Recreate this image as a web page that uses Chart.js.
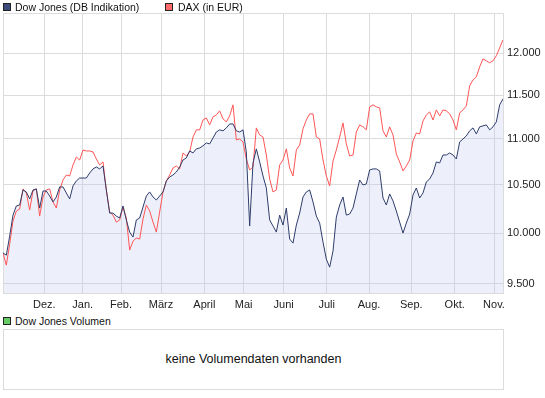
<!DOCTYPE html>
<html>
<head>
<meta charset="utf-8">
<script src="https://cdn.jsdelivr.net/npm/chart.js@4.4.0/dist/chart.umd.min.js"></script>
<style>
    body { margin: 0; background: #fff; font-family: "Liberation Sans", Arial, sans-serif; color: #111; }
    #wrap { position: relative; width: 545px; height: 398px; overflow: hidden; }
    #main { position: absolute; left: 0; top: 0; }
    .leg { position: absolute; font-size: 10.5px; line-height: 12px; white-space: nowrap; }
    .sq { position: absolute; width: 6px; height: 6px; border: 1px solid #222; }
    #volBox { position: absolute; left: 3px; top: 329px; width: 501px; height: 61px; box-sizing: border-box; border: 1px solid #dcdcdc; }
    #volMsg { position: absolute; left: 0; width: 100%; top: 22px; text-align: center; font-size: 12.5px; line-height: 14px; }
</style>
</head>
<body>
<div id="wrap">
    <canvas id="main" width="545" height="315"></canvas>

    <div class="sq" style="left:3px;top:3px;background:#3c4b7c"></div>
    <div class="leg" style="left:15px;top:1px">Dow Jones (DB Indikation)</div>
    <div class="sq" style="left:165px;top:3px;background:#ff6a6a"></div>
    <div class="leg" style="left:178px;top:1px">DAX (in EUR)</div>

    <div class="sq" style="left:3px;top:317px;background:#66cc66"></div>
    <div class="leg" style="left:15px;top:315px">Dow Jones Volumen</div>
    <div id="volBox"><div id="volMsg">keine Volumendaten vorhanden</div></div>
</div>

<script>
const monthLabels = ["Dez.", "Jan.", "Feb.", "März", "April", "Mai", "Juni", "Juli", "Aug.", "Sep.", "Okt.", "Nov."];
const monthPos = [12.4, 23.9, 35.4, 47.4, 60.4, 72.2, 84.2, 97.1, 109.8, 122.5, 135.5, 147.3];
const yTicks = [9500, 10000, 10500, 11000, 11500, 12000];

const dowValues = [
    9800, 9778, 9969, 10183, 10278, 10288, 10446, 10425, 10351, 10446,
    10457, 10256, 10435, 10435, 10382, 10320, 10372, 10478, 10478, 10414,
    10351, 10489, 10542, 10573, 10573, 10573, 10627, 10671, 10692, 10671,
    10703, 10446, 10204, 10204, 10173, 10153, 10278, 10133, 10009, 9959,
    10133, 10153, 10267, 10382, 10425, 10372, 10340, 10382, 10425, 10542,
    10584, 10606, 10638, 10692, 10768, 10790, 10867, 10845, 10890, 10900,
    10924, 10956, 10945, 11011, 11078, 11102, 11091, 11124, 11169, 11169,
    11091, 11078, 11102, 10856, 10071, 10736, 10890, 10747, 10595, 10467,
    10133, 10071, 10009, 10183, 10081, 10256, 9939, 9898, 10081, 10204,
    10372, 10425, 10446, 10320, 10173, 10101, 9908, 9739, 9660, 9818,
    10163, 10288, 10372, 10183, 10194, 10256, 10404, 10552, 10499, 10510,
    10660, 10671, 10671, 10649, 10361, 10288, 10404, 10330, 10225, 10111,
    9999, 10101, 10194, 10393, 10467, 10361, 10414, 10531, 10563, 10627,
    10747, 10736, 10823, 10823, 10845, 10823, 10779, 10967, 11000, 11034,
    11091, 11124, 11056, 11136, 11147, 11158, 11102, 11136, 11192, 11387,
    11456
];

const daxValues = [
    9798, 9679, 9888, 10122, 10225, 10246, 10457, 10414, 10235, 10435,
    10457, 10173, 10372, 10446, 10457, 10320, 10256, 10446, 10552, 10606,
    10595, 10714, 10801, 10768, 10878, 10867, 10867, 10856, 10779, 10714,
    10747, 10446, 10215, 10183, 10111, 10133, 10267, 10153, 9828, 9918,
    9949, 9939, 10143, 10288, 10225, 10111, 10009, 10215, 10425, 10542,
    10606, 10681, 10703, 10671, 10845, 10812, 10856, 11022, 11102, 11102,
    11214, 11237, 11158, 11249, 11271, 11318, 11226, 11192, 11260, 11387,
    10989, 11000, 10967, 10779, 10660, 10692, 11124, 11045, 11022, 10823,
    10563, 10425, 10446, 10714, 10768, 10890, 10681, 10595, 10878, 10933,
    11113, 11214, 11283, 11283, 11022, 11000, 10768, 10595, 10489, 10757,
    10878, 11022, 11180, 10945, 10812, 10823, 11078, 11158, 11136, 11102,
    11364, 11387, 11364, 11352, 11091, 11022, 11136, 11045, 10834, 10747,
    10649, 10703, 10768, 10978, 11067, 11056, 11203, 11271, 11306, 11214,
    11329, 11260, 11329, 11318, 11283, 11214, 11102, 11295, 11329, 11375,
    11608, 11679, 11714, 11834, 11931, 11907, 11883, 11907, 11968, 12064,
    12163
];

const gridColor = "#dcdcdc";
const tickFont = { family: "'Liberation Sans', Arial, sans-serif", size: 11 };

function formatDe(v) {
    return String(v).replace(/\B(?=(\d{3})+(?!\d))/g, ".");
}

// frame round the plot area (left and top edges are not axes)
const plotBox = {
    id: "plotBox",
    beforeDatasetsDraw(chart) {
        const { ctx, chartArea: a } = chart;
        ctx.save();
        ctx.strokeStyle = gridColor;
        ctx.lineWidth = 1;
        ctx.strokeRect(Math.round(a.left) + 0.5, Math.round(a.top) + 0.5,
            Math.round(a.right - a.left), Math.round(a.bottom - a.top));
        ctx.restore();
    }
};

const ctx = document.querySelector("#main").getContext("2d");
new Chart(ctx, {
    type: "line",
    data: {
        datasets: [
            {
                label: "Dow Jones (DB Indikation)",
                data: dowValues.map((v, i) => ({ x: i, y: v })),
                borderColor: "#2e3d6b",
                borderWidth: 1,
                pointRadius: 0,
                tension: 0,
                fill: "start",
                backgroundColor: "rgba(185,196,235,0.25)"
            },
            {
                label: "DAX (in EUR)",
                data: daxValues.map((v, i) => ({ x: i, y: v })),
                borderColor: "#ff5555",
                borderWidth: 1,
                pointRadius: 0,
                tension: 0,
                fill: false
            }
        ]
    },
    options: {
        responsive: false,
        animation: false,
        layout: { padding: { left: 3, top: 13, right: 0, bottom: 0 } },
        plugins: {
            legend: { display: false },
            tooltip: { enabled: false },
            filler: { drawTime: "beforeDatasetsDraw" }
        },
        scales: {
            x: {
                type: "linear",
                min: 0,
                max: dowValues.length - 1,
                grid: { color: gridColor, drawTicks: false },
                border: { color: gridColor },
                ticks: {
                    autoSkip: false,
                    maxRotation: 0,
                    padding: 5,
                    color: "#222",
                    font: tickFont,
                    callback: (v, i) => monthLabels[i]
                },
                afterBuildTicks: (s) => { s.ticks = monthPos.map(v => ({ value: v })); },
                afterFit: (s) => { s.height = 22; }
            },
            y: {
                type: "logarithmic",
                position: "right",
                min: 9410,
                max: 12498,
                grid: { color: gridColor, drawTicks: false },
                border: { color: gridColor },
                ticks: {
                    padding: 4,
                    color: "#222",
                    font: tickFont,
                    callback: (v) => formatDe(v)
                },
                afterBuildTicks: (s) => { s.ticks = yTicks.map(v => ({ value: v })); },
                afterFit: (s) => { s.width = 42; }
            }
        }
    },
    plugins: [plotBox]
});
</script>
</body>
</html>
